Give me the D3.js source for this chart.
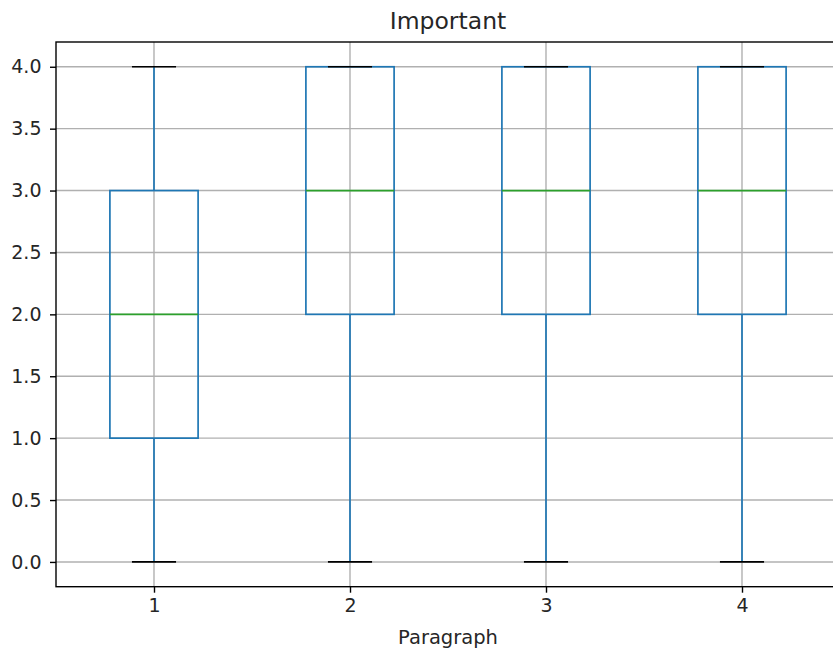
<!DOCTYPE html>
<html><head><meta charset="utf-8">
<script src="https://cdn.jsdelivr.net/npm/d3@7"></script>
<style>body{margin:0;background:#fff}svg{display:block}text{font-family:"DejaVu Sans",sans-serif;fill:#262626}</style>
</head><body>
<svg id="c" width="833" height="653"></svg>
<script>
const categories = ["1","2","3","4"];
const whiskerLow = [0,0,0,0];
const q1 = [1,2,2,2];
const median = [2,3,3,3];
const q3 = [3,4,4,4];
const whiskerHigh = [4,4,4,4];
const yTicks = [0,0.5,1,1.5,2,2.5,3,3.5,4];
const title = "Important";
const xLabel = "Paragraph";

const svg = d3.select("#c");
const L = 56, R = 840, T = 42, B = 586.7;
const x = d3.scaleLinear().domain([0.5, 4.5]).range([L, R]);
const y = d3.scaleLinear().domain([-0.2, 4.2]).range([B, T]);

// grid
const g = svg.append("g");
g.selectAll(".gy").data(yTicks).join("line")
  .attr("x1", L).attr("x2", R).attr("y1", d=>y(d)).attr("y2", d=>y(d))
  .attr("stroke", "#b0b0b0").attr("stroke-width", 1.4);
g.selectAll(".gx").data(categories).join("line")
  .attr("x1", (d,i)=>x(i+1)).attr("x2", (d,i)=>x(i+1)).attr("y1", T).attr("y2", B)
  .attr("stroke", "#b0b0b0").attr("stroke-width", 1.4);

// boxes
const bw = 0.45, cw = 0.225;
const data = categories.map((c,i)=>({c, i, lo: whiskerLow[i], q1: q1[i], med: median[i], q3: q3[i], hi: whiskerHigh[i]}));
const bx = svg.append("g");
data.forEach(d => {
  const cx = x(d.i+1);
  const hw = x(d.i+1+bw/2) - cx;
  const chw = x(d.i+1+cw/2) - cx;
  bx.append("line").attr("x1", cx).attr("x2", cx).attr("y1", y(d.lo)).attr("y2", y(d.q1)).attr("stroke", "#1f77b4").attr("stroke-width", 1.7);
  bx.append("line").attr("x1", cx).attr("x2", cx).attr("y1", y(d.q3)).attr("y2", y(d.hi)).attr("stroke", "#1f77b4").attr("stroke-width", 1.7);
  bx.append("rect").attr("x", cx-hw).attr("y", y(d.q3)).attr("width", 2*hw).attr("height", y(d.q1)-y(d.q3))
    .attr("fill", "none").attr("stroke", "#1f77b4").attr("stroke-width", 1.7);
  bx.append("line").attr("x1", cx-hw).attr("x2", cx+hw).attr("y1", y(d.med)).attr("y2", y(d.med)).attr("stroke", "#2ca02c").attr("stroke-width", 1.7);
  bx.append("line").attr("x1", cx-chw).attr("x2", cx+chw).attr("y1", y(d.lo)).attr("y2", y(d.lo)).attr("stroke", "#000").attr("stroke-width", 1.7);
  bx.append("line").attr("x1", cx-chw).attr("x2", cx+chw).attr("y1", y(d.hi)).attr("y2", y(d.hi)).attr("stroke", "#000").attr("stroke-width", 1.7);
});

// axes
const yAxis = d3.axisLeft(y).tickValues(yTicks).tickFormat(d3.format(".1f")).tickSizeOuter(0).tickSize(6).tickPadding(8.5);
const xAxis = d3.axisBottom(x).tickValues([1,2,3,4]).tickFormat((d)=>categories[d-1]).tickSizeOuter(0).tickSize(6).tickPadding(5.5);
const ya = svg.append("g").attr("transform", `translate(${L},0)`).call(yAxis);
const xa = svg.append("g").attr("transform", `translate(0,${B})`).call(xAxis);
[ya, xa].forEach(a => {
  a.select(".domain").remove();
  a.selectAll(".tick line").attr("stroke", "#000").attr("stroke-width", 1.4);
  a.selectAll(".tick text").attr("font-size", 19).attr("fill", "#262626").attr("font-family", "DejaVu Sans");
});

// spines
svg.append("rect").attr("x", L).attr("y", T).attr("width", R-L).attr("height", B-T)
  .attr("fill", "none").attr("stroke", "#000").attr("stroke-width", 1.4);

svg.append("text").attr("x", (L+R)/2).attr("y", 28.5).attr("text-anchor", "middle").attr("font-size", 23.5).text(title);
svg.append("text").attr("x", (L+R)/2).attr("y", 644).attr("text-anchor", "middle").attr("font-size", 19.5).text(xLabel);
</script>
</body></html>
